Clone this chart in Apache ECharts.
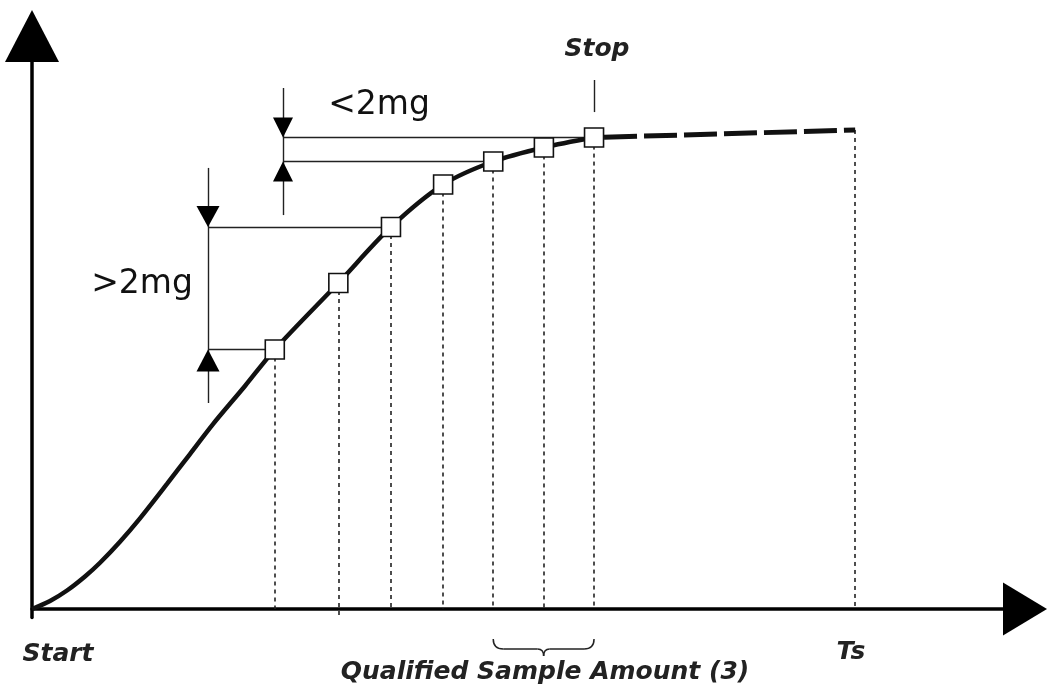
<!DOCTYPE html>
<html><head><meta charset="utf-8">
<script src="https://cdn.jsdelivr.net/npm/echarts@6/dist/echarts.min.js"></script>
<style>html,body{margin:0;padding:0;background:#fff}#c{width:1047px;height:689px}</style>
</head><body><div id="c"></div>
<script>
// weighing curve (time units, mass in mg)
const curveX = [0, 3.63, 7.05, 10.67, 13.70, 17.72, 21.75, 27.19, 31.82, 36.46, 42.90, 48.9, 61.7, 72.3, 82.8, 92.9, 103.1, 113.2];
const curveY = [0, 0.56, 1.29, 2.27, 3.23, 4.70, 6.33, 8.73, 10.82, 12.91, 15.57, 18.12, 22.76, 26.67, 29.63, 31.24, 32.22, 32.91];
// sample points (squares)
const sampleX = [48.9, 61.7, 72.3, 82.8, 92.9, 103.1, 113.2];
const sampleY = [18.12, 22.76, 26.67, 29.63, 31.24, 32.22, 32.91];
// dashed continuation up to Ts
const tailX = [113.2, 165.8];
const tailY = [32.91, 33.44];
const tsX = 165.8;
// axis ranges
const xRange = [0, 200];
const yRange = [-0.6, 40];
// annotation bars
const lessBarX = 50.55, lessBarY = [36.37, 27.5];
const moreBarX = 35.45, moreBarY = [30.79, 14.38];
const stopTickY = [36.93, 34.69];
const belowAxisY = -0.6;
// texts
const labelStart = 'Start', labelStop = 'Stop', labelTs = 'Ts';
const labelQualified = 'Qualified Sample Amount (3)';
const labelLess = '<2mg', labelMore = '>2mg';

const chart = echarts.init(document.getElementById('c'), null, {renderer: 'canvas'});
const ink = '#111';
const thin = {color: '#222', width: 1.4, type: 'solid'};
const dot = {color: '#222', width: 1.6, type: [4, 4]};

const mlData = [];
sampleX.forEach((x, i) => {
  mlData.push([{coord: [x, sampleY[i]], lineStyle: dot}, {coord: [x, i === 1 ? belowAxisY : 0]}]);
});
mlData.push([{coord: [tsX, tailY[1]], lineStyle: dot}, {coord: [tsX, 0]}]);
// <2mg bar
mlData.push([{coord: [lessBarX, lessBarY[0]], lineStyle: thin}, {coord: [lessBarX, lessBarY[1]]}]);
mlData.push([{coord: [lessBarX, sampleY[6]], lineStyle: thin}, {coord: [sampleX[6], sampleY[6]]}]);
mlData.push([{coord: [lessBarX, sampleY[4]], lineStyle: thin}, {coord: [sampleX[4], sampleY[4]]}]);
// >2mg bar
mlData.push([{coord: [moreBarX, moreBarY[0]], lineStyle: thin}, {coord: [moreBarX, moreBarY[1]]}]);
mlData.push([{coord: [moreBarX, sampleY[2]], lineStyle: thin}, {coord: [sampleX[2], sampleY[2]]}]);
mlData.push([{coord: [moreBarX, sampleY[0]], lineStyle: thin}, {coord: [sampleX[0], sampleY[0]]}]);
// stop tick
mlData.push([{coord: [sampleX[6], stopTickY[0]], lineStyle: thin}, {coord: [sampleX[6], stopTickY[1]]}]);

const zip = (a, b) => a.map((v, i) => [v, b[i]]);

const option = {
  animation: false,
  backgroundColor: '#fff',
  grid: {left: 32, right: 22, top: 36, bottom: 71.4},
  xAxis: {
    type: 'value', min: xRange[0], max: xRange[1],
    axisLine: {show: true, onZero: true, symbol: ['none', 'triangle'], symbolSize: [53, 44], lineStyle: {color: '#000', width: 3.5}},
    axisTick: {show: false}, axisLabel: {show: false}, splitLine: {show: false}
  },
  yAxis: {
    type: 'value', min: yRange[0], max: yRange[1],
    axisLine: {show: true, onZero: true, symbol: ['none', 'triangle'], symbolSize: [54, 52], lineStyle: {color: '#000', width: 3.5}},
    axisTick: {show: false}, axisLabel: {show: false}, splitLine: {show: false}
  },
  series: [
    {
      type: 'line', data: zip(curveX, curveY), smooth: 0.3, symbol: 'none', z: 3,
      lineStyle: {color: ink, width: 4.5},
      markLine: {silent: true, symbol: ['none', 'none'], label: {show: false}, animation: false, data: mlData, z: 2}
    },
    {
      type: 'line', data: zip(tailX, tailY), symbol: 'none', z: 3,
      lineStyle: {color: ink, width: 5, type: [33, 7], dashOffset: -10}
    },
    {
      type: 'scatter', data: zip(sampleX, sampleY), symbol: 'rect', symbolSize: 19, z: 6,
      itemStyle: {color: '#fff', borderColor: ink, borderWidth: 1.6, opacity: 1}
    },
    {
      type: 'scatter', symbol: 'triangle', symbolRotate: 180, z: 6,
      itemStyle: {color: '#000', opacity: 1},
      data: [
        {value: [lessBarX, sampleY[6]], symbolSize: [20, 20], symbolOffset: [0, -10]},
        {value: [moreBarX, sampleY[2]], symbolSize: [23, 21], symbolOffset: [0, -10.5]}
      ]
    },
    {
      type: 'scatter', symbol: 'triangle', z: 6,
      itemStyle: {color: '#000', opacity: 1},
      data: [
        {value: [lessBarX, sampleY[4]], symbolSize: [20, 20], symbolOffset: [0, 10]},
        {value: [moreBarX, sampleY[0]], symbolSize: [23, 22], symbolOffset: [0, 11]}
      ]
    }
  ]
};
chart.setOption(option);

const boldIt = {fontFamily: 'DejaVu Sans', fontWeight: 'bold', fontStyle: 'italic', fontSize: 25, fill: '#222', align: 'center', verticalAlign: 'middle'};
const reg = {fontFamily: 'DejaVu Sans', fontSize: 33, fill: '#111', align: 'center', verticalAlign: 'middle'};
const p5 = chart.convertToPixel({gridIndex: 0}, [sampleX[4], 0]);
const p7 = chart.convertToPixel({gridIndex: 0}, [sampleX[6], 0]);
const x0 = p5[0], x1 = p7[0], xm = (x0 + x1) / 2, yt = p5[1] + 30;
const bs = {stroke: '#222', lineWidth: 1.5, fill: 'none'};
const brace = [
  {type: 'bezierCurve', shape: {x1: x0, y1: yt, cpx1: x0, cpy1: yt + 10, x2: x0 + 10, y2: yt + 10}, style: bs},
  {type: 'line', shape: {x1: x0 + 10, y1: yt + 10, x2: xm - 6, y2: yt + 10}, style: bs},
  {type: 'bezierCurve', shape: {x1: xm - 6, y1: yt + 10, cpx1: xm, cpy1: yt + 10, x2: xm, y2: yt + 17}, style: bs},
  {type: 'bezierCurve', shape: {x1: xm, y1: yt + 17, cpx1: xm, cpy1: yt + 10, x2: xm + 6, y2: yt + 10}, style: bs},
  {type: 'line', shape: {x1: xm + 6, y1: yt + 10, x2: x1 - 10, y2: yt + 10}, style: bs},
  {type: 'bezierCurve', shape: {x1: x1 - 10, y1: yt + 10, cpx1: x1, cpy1: yt + 10, x2: x1, y2: yt}, style: bs}
];

chart.setOption({
  graphic: [
    {type: 'text', x: 58, y: 654, style: Object.assign({text: labelStart}, boldIt)},
    {type: 'text', x: 597, y: 49, style: Object.assign({text: labelStop}, boldIt)},
    {type: 'text', x: 851, y: 652, style: Object.assign({text: labelTs}, boldIt)},
    {type: 'text', x: 545, y: 672, style: Object.assign({text: labelQualified}, boldIt)},
    {type: 'text', x: 379, y: 105, style: Object.assign({text: labelLess}, reg)},
    {type: 'text', x: 142, y: 284, style: Object.assign({text: labelMore}, reg)}
  ].concat(brace)
});
</script></body></html>
